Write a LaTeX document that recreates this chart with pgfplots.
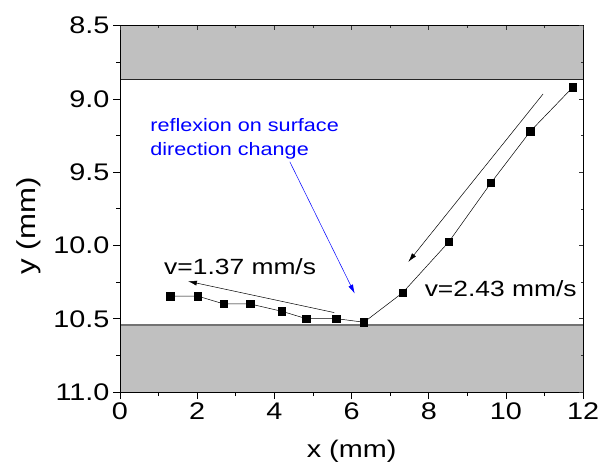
\documentclass[border=0pt]{standalone}
\usepackage{fontspec}
\setmainfont[FakeStretch=1.2]{Liberation Sans}
\usepackage{pgfplots}
\pgfplotsset{compat=1.18}
\usetikzlibrary{arrows.meta}
\definecolor{band}{HTML}{C0C0C0}
\begin{document}
\begin{tikzpicture}[x=1bp,y=1bp]
\begin{axis}[
  at={(120bp,70bp)}, anchor=south west,
  scale only axis, width=463.2bp, height=366.3bp,
  xmin=0, xmax=12, ymin=8.5, ymax=11, y dir=reverse,
  xtick={0,2,...,12}, ytick={8.5,9,9.5,10,10.5,11},
  minor x tick num=1, minor y tick num=1,
  xtick pos=left, ytick pos=left, tick align=outside,
  major tick length=7bp, minor tick length=4bp,
  tick style={line width=0.8bp, black},
  axis line style={line width=0.9bp, black},
  axis on top,
  /pgf/number format/assume math mode=true,
  tick label style={font=\fontsize{24bp}{28bp}\selectfont},
  yticklabel style={/pgf/number format/fixed, /pgf/number format/fixed zerofill, /pgf/number format/precision=1},
  clip=false,
]
\addplot[fill=band, draw=none] coordinates {(0,8.5) (12,8.5) (12,8.866) (0,8.866)} -- cycle;
\addplot[draw=black!85, line width=0.9bp] coordinates {(0,8.866) (12,8.866)};
\addplot[fill=band, draw=none] coordinates {(0,10.543) (12,10.543) (12,11) (0,11)} -- cycle;
\addplot[draw=black!55, line width=1.2bp] coordinates {(0,10.543) (12,10.543)};

\addplot[black, line width=0.5bp, mark=square*, mark size=3.7bp, mark options={solid}] coordinates {
(1.30,10.346) (2.02,10.346) (2.69,10.399) (3.37,10.399) (4.19,10.449) (4.82,10.499) (5.60,10.499) (6.32,10.524) (7.32,10.323) (8.52,9.975) (9.61,9.573) (10.63,9.221) (11.73,8.920)
};

\addplot[black, line width=0.5bp, -{Latex[length=9bp,width=5bp]}] coordinates {(10.96,8.966) (7.47,10.112)};
\addplot[black, line width=0.5bp, -{Latex[length=9bp,width=5bp]}] coordinates {(5.55,10.458) (1.76,10.244)};
\addplot[blue, line width=0.5bp, -{Latex[length=9bp,width=5bp]}] coordinates {(4.40,9.429) (6.08,10.328)};

\node[anchor=base west, inner sep=0pt, text=blue, font=\fontsize{18bp}{22bp}\selectfont] at (axis cs:0.78,9.219) {reflexion on surface};
\node[anchor=base west, inner sep=0pt, text=blue, font=\fontsize{18bp}{22bp}\selectfont] at (axis cs:0.78,9.383) {direction change};
\node[anchor=base west, inner sep=0pt, font=\fontsize{22bp}{26bp}\selectfont] at (axis cs:1.14,10.20) {v=1.37 mm/s};
\node[anchor=base west, inner sep=0pt, font=\fontsize{22bp}{26bp}\selectfont] at (axis cs:7.89,10.35) {v=2.43 mm/s};
\end{axis}
\begin{axis}[
  at={(120bp,70bp)}, anchor=south west,
  scale only axis, width=463.2bp, height=366.3bp,
  xmin=0, xmax=12, ymin=8.5, ymax=11, y dir=reverse,
  xtick={0,2,...,12}, ytick={8.5,9,9.5,10,10.5,11},
  minor x tick num=1, minor y tick num=1,
  xtick pos=right, ytick pos=right, tick align=inside,
  major tick length=4bp, minor tick length=2.5bp,
  tick style={line width=0.7bp, black!80},
  xticklabels={}, yticklabels={},
  axis line style={draw=none},
]
\end{axis}
\node[anchor=base, inner sep=0pt, font=\fontsize{24bp}{28bp}\selectfont] at (351.6bp,5bp) {x (mm)};
\node[anchor=base, rotate=90, inner sep=0pt, font=\fontsize{26bp}{30bp}\selectfont] at (35bp,236bp) {y (mm)};
\pgfresetboundingbox
\useasboundingbox (0,0) rectangle (602bp,462bp);
\end{tikzpicture}
\end{document}
